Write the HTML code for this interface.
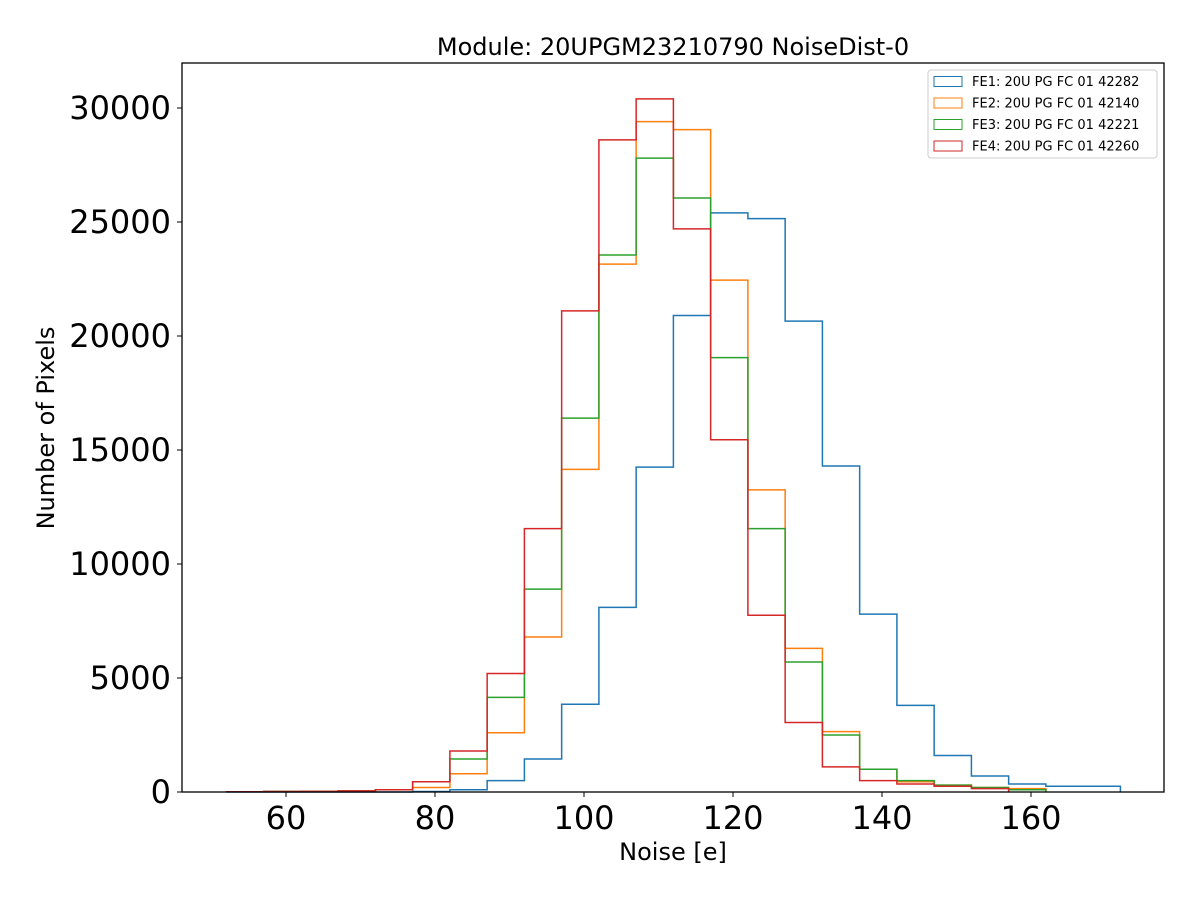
<!DOCTYPE html>
<html><head><meta charset="utf-8"><style>
body{margin:0;background:#fff;font-family:"Liberation Sans","DejaVu Sans",sans-serif}
</style></head><body>
<svg id="chart" width="1200" height="900" xmlns="http://www.w3.org/2000/svg" font-family="DejaVu Sans, Liberation Sans, sans-serif">
<rect width="1200" height="900" fill="#fff"/>
<text x="673" y="55" font-size="24" text-anchor="middle">Module: 20UPGM23210790 NoiseDist-0</text>
<text x="673" y="860" font-size="24" text-anchor="middle">Noise [e]</text>
<text transform="translate(54,428) rotate(-90)" font-size="24" text-anchor="middle">Number of Pixels</text>
<g id="marks"></g>
<g id="axes"></g>
<rect x="182" y="63" width="982" height="729" fill="none" stroke="#000" stroke-width="1.3"/>
<g id="legend"></g>
</svg>
<script>
const binStart = 52;
const binWidth = 5;
const seriesNames = ["FE1: 20U PG FC 01 42282","FE2: 20U PG FC 01 42140","FE3: 20U PG FC 01 42221","FE4: 20U PG FC 01 42260"];
const seriesColors = ["#1f77b4","#ff7f0e","#2ca02c","#d62728"];
const fe1 = [0,0,0,0,0,20,100,500,1450,3850,8100,14250,20900,25400,25150,20650,14300,7800,3800,1600,700,350,250,250];
const fe2 = [10,20,30,50,100,200,800,2600,6800,14150,23150,29400,29050,22450,13250,6300,2650,1000,450,300,200,150];
const fe3 = [10,20,30,50,100,450,1450,4150,8900,16400,23550,27800,26050,19050,11550,5700,2500,1000,500,300,200,100];
const fe4 = [10,20,30,50,100,450,1800,5200,11550,21100,28600,30400,24700,15450,7750,3050,1100,500,350,250,150];
const xTicks = [60,80,100,120,140,160];
const yTicks = [0,5000,10000,15000,20000,25000,30000];
const series = [fe1,fe2,fe3,fe4];
const NS="http://www.w3.org/2000/svg";
const xs = v => 286 + (v-60)*7.45;
const ys = v => 792 - v*684/30000;
const marks=document.getElementById('marks');
series.forEach((vals,si)=>{
  let d=`M${xs(binStart)},${ys(0)}`;
  vals.forEach((v,i)=>{const x0=xs(binStart+i*binWidth),x1=xs(binStart+(i+1)*binWidth);d+=` L${x0},${ys(v)} L${x1},${ys(v)}`;});
  d+=` L${xs(binStart+vals.length*binWidth)},${ys(0)}`;
  const p=document.createElementNS(NS,'path');
  p.setAttribute('d',d);p.setAttribute('fill','none');p.setAttribute('stroke',seriesColors[si]);p.setAttribute('stroke-width','1.5');
  
  
  marks.appendChild(p);
});
const axes=document.getElementById('axes');
xTicks.forEach(t=>{
  const l=document.createElementNS(NS,'line');
  l.setAttribute('x1',xs(t));l.setAttribute('x2',xs(t));l.setAttribute('y1',792);l.setAttribute('y2',797);l.setAttribute('stroke','#000');
  
  
  axes.appendChild(l);
  const tx=document.createElementNS(NS,'text');
  tx.setAttribute('x',xs(t));tx.setAttribute('y',829);tx.setAttribute('font-size','32');tx.setAttribute('text-anchor','middle');tx.textContent=t;
  
  
  axes.appendChild(tx);
});
yTicks.forEach(t=>{
  const l=document.createElementNS(NS,'line');
  l.setAttribute('x1',177);l.setAttribute('x2',182);l.setAttribute('y1',ys(t));l.setAttribute('y2',ys(t));l.setAttribute('stroke','#000');
  
  
  axes.appendChild(l);
  const tx=document.createElementNS(NS,'text');
  tx.setAttribute('x',171);tx.setAttribute('y',ys(t)+11);tx.setAttribute('font-size','32');tx.setAttribute('text-anchor','end');tx.textContent=t;
  
  
  axes.appendChild(tx);
});
const lg=document.getElementById('legend');
const box=document.createElementNS(NS,'rect');
box.setAttribute('x',928);box.setAttribute('y',70);box.setAttribute('width',229);box.setAttribute('height',88);box.setAttribute('rx',3);
box.setAttribute('fill','#fff');box.setAttribute('fill-opacity','0.8');box.setAttribute('stroke','#ccc');


lg.appendChild(box);
seriesNames.forEach((n,i)=>{
  const y=81+i*21.5;
  const r=document.createElementNS(NS,'rect');
  r.setAttribute('x',934);r.setAttribute('y',y-4.5);r.setAttribute('width',28);r.setAttribute('height',10);r.setAttribute('fill','none');r.setAttribute('stroke',seriesColors[i]);
  
  
  lg.appendChild(r);
  const t=document.createElementNS(NS,'text');
  t.setAttribute('x',972);t.setAttribute('y',y+5);t.setAttribute('font-size','13');t.textContent=n;
  
  
  lg.appendChild(t);
});
</script>
</body></html>
